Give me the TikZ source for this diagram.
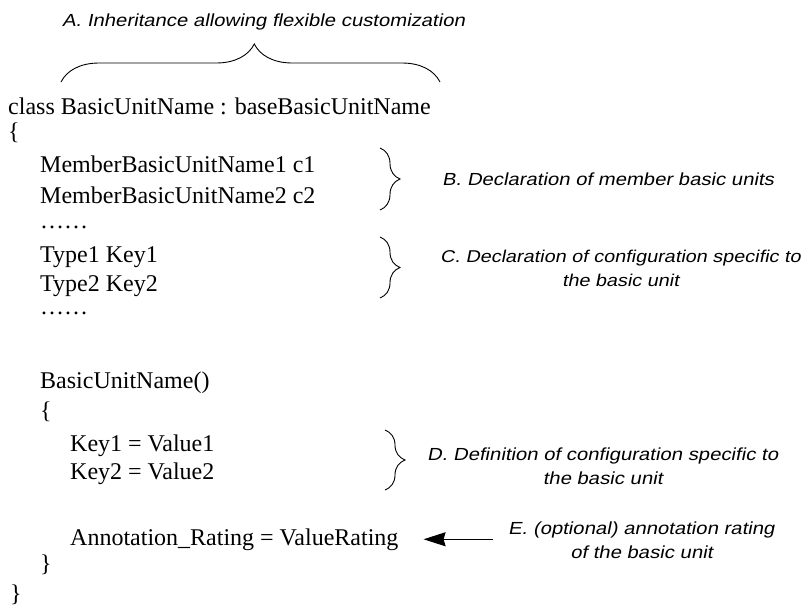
\documentclass[tikz,border=0pt]{standalone}
\usepackage{fontspec}
\setmainfont{Liberation Serif}
\newfontfamily\notefont{Liberation Sans}[FakeSlant=0.2,FakeStretch=1.16]
\usetikzlibrary{arrows.meta,decorations.pathreplacing}

\begin{document}
\begin{tikzpicture}[
  x=1pt,
  y=-1pt,
  code/.style={anchor=base west, inner sep=0pt, font=\fontsize{24}{28}\selectfont},
  note/.style={anchor=west, inner sep=0pt, align=center,
    font=\notefont\fontsize{17.5}{24}\selectfont},
  curly/.style={decorate, decoration={brace, amplitude=#1}, line width=0.9pt},
  curly/.default=20pt,
  pointer/.style={line width=1.3pt, -{Stealth[length=22pt, width=14pt, inset=2pt]}}
]
  % ---- page ------------------------------------------------------------
  \useasboundingbox (0,0) rectangle (810,606);

  % ---- class header ----------------------------------------------------
  \node[code] (head) at (8,114) {class BasicUnitName : baseBasicUnitName};
  \node[code] (open) at (8,139) {\{};

  % ---- member basic units and keys -------------------------------------
  \node[code] (mem1) at (40,172) {MemberBasicUnitName1 c1};
  \node[code] (mem2) at (40,203) {MemberBasicUnitName2 c2};
  \node[code] (dots1) at (40,228) {……};
  \node[code] (type1) at (40,262) {Type1 Key1};
  \node[code] (type2) at (40,291) {Type2 Key2};
  \node[code] (dots2) at (40,314) {……};

  % ---- constructor -----------------------------------------------------
  \node[code] (ctor) at (40,388) {BasicUnitName()};
  \node[code] (ctoropen) at (40,418) {\{};
  \node[code] (key1) at (70,451) {Key1 = Value1};
  \node[code] (key2) at (70,479) {Key2 = Value2};
  \node[code] (rating) at (70,545) {Annotation\_Rating = ValueRating};
  \node[code] (ctorclose) at (40,571) {\}};
  \node[code] (close) at (10,601) {\}};

  % ---- braces ----------------------------------------------------------
  \draw[curly=38pt, decoration={aspect=0.51}] (61,82) -- (440,82);
  \draw[curly] (380,148) -- (380,210);
  \draw[curly] (380,237) -- (380,298);
  \draw[curly] (385,430) -- (385,490);

  % ---- notes -----------------------------------------------------------
  \node[note] (noteA) at (62,22) {A. Inheritance allowing flexible customization};
  \node[note] (noteB) at (442,179) {B. Declaration of member basic units};
  \node[note, font=\notefont\fontsize{17.1}{24}\selectfont] (noteC) at (440,268)
    {C. Declaration of configuration specific to\\the basic unit};
  \node[note] (noteD) at (427,466)
    {D. Definition of configuration specific to\\the basic unit};
  \node[note] (noteE) at (508,540)
    {E. (optional) annotation rating\\of the basic unit};

  % ---- rating pointer --------------------------------------------------
  \draw[pointer, shorten <=15pt, shorten >=25pt]
    (noteE.west |- rating.east) -- (rating.east);
\end{tikzpicture}
\end{document}
